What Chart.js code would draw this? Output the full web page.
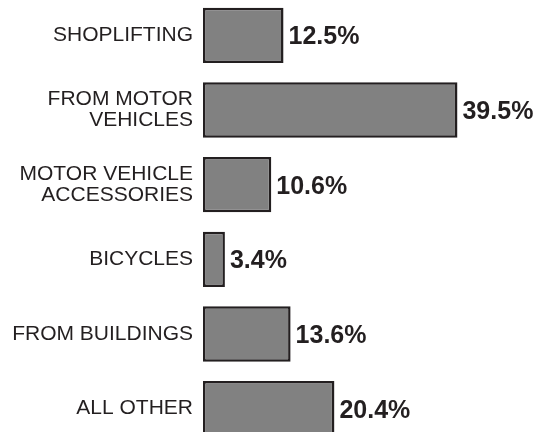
<!DOCTYPE html>
<html>
<head>
<meta charset="utf-8">
<script src="https://cdn.jsdelivr.net/npm/chart.js@4/dist/chart.umd.min.js"></script>
<style>
  html, body { margin: 0; padding: 0; background: #ffffff; overflow: hidden; width: 538px; height: 432px; }
  #wrap { position: absolute; left: 0; top: -2px; width: 538px; height: 448px; }
</style>
</head>
<body>
<div id="wrap"><canvas id="c" width="538" height="448"></canvas></div>
<script>
const categories = [
  ["SHOPLIFTING"],
  ["FROM MOTOR", "VEHICLES"],
  ["MOTOR VEHICLE", "ACCESSORIES"],
  ["BICYCLES"],
  ["FROM BUILDINGS"],
  ["ALL OTHER"]
];
const values = [12.5, 39.5, 10.6, 3.4, 13.6, 20.4];
const valueLabels = ["12.5%", "39.5%", "10.6%", "3.4%", "13.6%", "20.4%"];

const valueLabelPlugin = {
  id: 'valueLabels',
  afterDatasetsDraw(chart) {
    const ctx = chart.ctx;
    const meta = chart.getDatasetMeta(0);
    ctx.save();
    ctx.font = 'bold 25px "Liberation Sans", Arial, sans-serif';
    ctx.fillStyle = '#231f20';
    ctx.textAlign = 'left';
    ctx.textBaseline = 'middle';
    meta.data.forEach((el, i) => {
      ctx.fillText(valueLabels[i], el.x + 5, el.y + 2);
    });
    ctx.restore();
  }
};

new Chart(document.getElementById('c'), {
  type: 'bar',
  data: {
    labels: categories,
    datasets: [{
      data: values,
      backgroundColor: '#818181',
      borderColor: '#231f20',
      borderWidth: 2.5,
      borderSkipped: false,
      barPercentage: 0.74,
      categoryPercentage: 1.0
    }]
  },
  options: {
    indexAxis: 'y',
    responsive: false,
    animation: false,
    devicePixelRatio: 1,
    layout: { padding: { left: 0, right: 0, top: 0, bottom: 0 } },
    plugins: {
      legend: { display: false },
      tooltip: { enabled: false }
    },
    scales: {
      x: {
        display: false,
        min: 0,
        max: 52
      },
      y: {
        grid: { display: false, drawTicks: false },
        border: { display: false },
        ticks: {
          padding: 10,
          color: '#231f20',
          font: { family: '"Liberation Sans", Arial, sans-serif', size: 21, lineHeight: 1.0 }
        },
        afterFit(scale) {
          scale.width = 203;
          scale.paddingTop = 0;
          scale.paddingBottom = 0;
        }
      }
    }
  },
  plugins: [valueLabelPlugin]
});
</script>
</body>
</html>
